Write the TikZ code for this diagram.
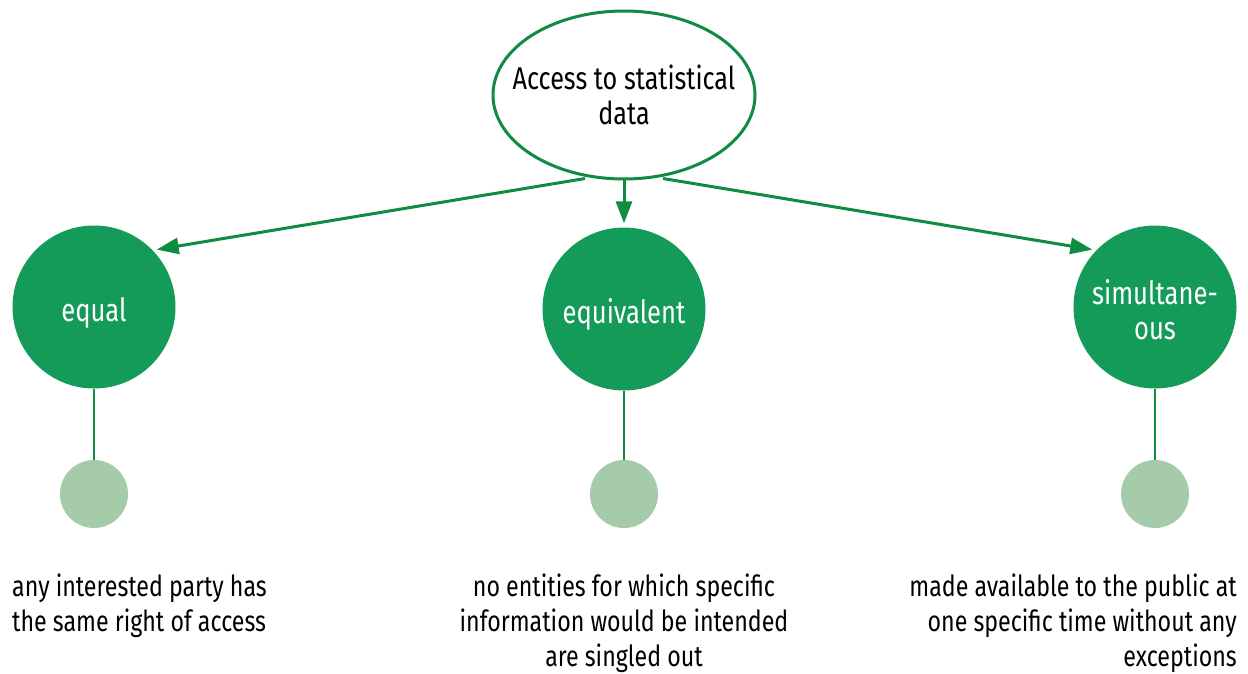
\documentclass[tikz,border=0pt]{standalone}
\usepackage{fontspec}
\setmainfont{Fira Sans}[FakeStretch=0.8]
\usetikzlibrary{shapes.geometric,arrows.meta}
\definecolor{gstroke}{RGB}{16,140,66}
\definecolor{gfill}{RGB}{20,155,90}
\definecolor{glight}{RGB}{165,203,171}
\definecolor{gline}{RGB}{14,140,66}
\tikzset{
  topnode/.style={ellipse,draw=gstroke,line width=3pt,fill=white,minimum width=262pt,minimum height=168pt,inner sep=0pt,align=center,font=\fontsize{31.5}{35}\selectfont,text=black},
  bigc/.style={circle,fill=gfill,minimum size=163pt,inner sep=0pt,align=center,text=white,font=\fontsize{32}{35}\selectfont},
  smallc/.style={circle,fill=glight,minimum size=68pt,inner sep=0pt},
  arr/.style={draw=gline,line width=3pt,-{Triangle[length=22pt,width=16pt]}},
  stem/.style={draw=gline,line width=2.5pt},
  desc/.style={font=\fontsize{29}{35}\selectfont,text=black,inner sep=0pt},
}
\begin{document}
\begin{tikzpicture}[x=1pt,y=-1pt]
\useasboundingbox (0,0) rectangle (1248,674);
\node[topnode] (top) at (624,95) {\makebox[0pt]{Access to statistical}\\\makebox[0pt]{data}};
\node[bigc,text height=28pt,text depth=0pt] (c1) at (94,307) {equal};
\node[bigc,text height=28pt,text depth=0pt] (c2) at (624,309) {equivalent};
\node[bigc] (c3) at (1155,307) {\rule{0pt}{30pt}simultane-\\ous};
\node[smallc] (s1) at (94,494) {};
\node[smallc] (s2) at (624,494) {};
\node[smallc] (s3) at (1155,494) {};
\draw[arr,shorten >=4pt] ([xshift=-39pt,yshift=2pt]top.south) -- (c1.44);
\draw[arr,shorten >=4pt] ([yshift=2pt]top.south) -- (c2.north);
\draw[arr,shorten >=4pt] ([xshift=39pt,yshift=2pt]top.south) -- (c3.136);
\draw[stem] (c1.south) -- (s1.north);
\draw[stem] (c2.south) -- (s2.north);
\draw[stem] (c3.south) -- (s3.north);
\node[desc,align=left,anchor=north west] (d1) at (12,574) {any interested party has\\the same right of access};
\node[desc,align=center,anchor=north] (d2) at (624,574) {no entities for which specific\\information would be intended\\are singled out};
\node[desc,align=right,anchor=north east] (d3) at (1237,574) {made available to the public at\\one specific time without any\\exceptions};
\end{tikzpicture}
\end{document}
